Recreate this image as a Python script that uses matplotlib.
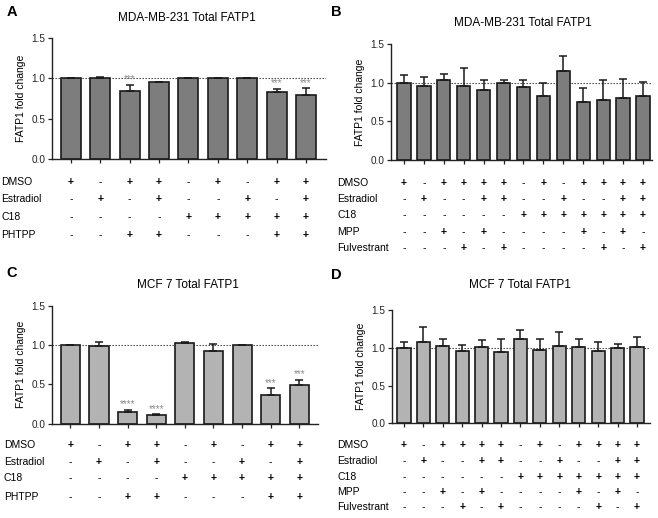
import matplotlib
matplotlib.use("Agg")
import matplotlib.pyplot as plt
import numpy as np

plt.rcParams['font.family'] = ['Liberation Sans', 'DejaVu Sans']

W, H = 658, 518

# ---- data ----
a_values = [1.0, 1.01, 0.85, 0.955, 1.0, 1.0, 1.0, 0.83, 0.80]
a_errors = [0.0, 0.005, 0.07, 0.0, 0.01, 0.0, 0.01, 0.04, 0.08]
a_stars = ["", "", "***", "", "", "", "", "***", "***"]

b_values = [1.0, 0.96, 1.03, 0.96, 0.905, 0.99, 0.94, 0.83, 1.15, 0.75, 0.78, 0.80, 0.83]
b_errors = [0.10, 0.11, 0.08, 0.23, 0.135, 0.04, 0.09, 0.17, 0.20, 0.18, 0.25, 0.25, 0.18]

c_values = [1.0, 0.99, 0.145, 0.11, 1.02, 0.92, 0.995, 0.36, 0.49]
c_errors = [0.0, 0.05, 0.035, 0.01, 0.02, 0.09, 0.005, 0.09, 0.07]
c_stars = ["", "", "****", "****", "", "", "", "***", "***"]

d_values = [1.0, 1.07, 1.03, 0.96, 1.01, 0.94, 1.12, 0.97, 1.03, 1.01, 0.96, 1.0, 1.01]
d_errors = [0.07, 0.20, 0.08, 0.08, 0.09, 0.18, 0.12, 0.15, 0.18, 0.10, 0.12, 0.05, 0.13]

ac_rows = ["DMSO", "Estradiol", "C18", "PHTPP"]
ac_signs = [
    "+-++-+-++",
    "-+-+--+-+",
    "----+++++",
    "--++---++",
]
bd_rows = ["DMSO", "Estradiol", "C18", "MPP", "Fulvestrant"]
bd_signs = [
    "+-++++-+-++++",
    "-+--++--+--++",
    "------+++++++",
    "--+-+----+-+-",
    "---+-+----+-+",
]

title_ab = "MDA-MB-231 Total FATP1"
title_cd = "MCF 7 Total FATP1"
yticks = [0.0, 0.5, 1.0, 1.5]
ytick_labels = ["0.0", "0.5", "1.0", "1.5"]

fig = plt.figure(figsize=(W / 100, H / 100), dpi=100)


def px_axes(left, top, right, bottom):
    return fig.add_axes([left / W, 1 - bottom / H, (right - left) / W, (bottom - top) / H])


def panel(ax, values, errors, color, xlim, bar_w, stars=None):
    x = np.arange(len(values))
    ax.bar(x, values, width=bar_w, color=color, edgecolor="#1a1a1a", linewidth=1.2, zorder=2)
    ax.errorbar(x, values, yerr=[np.zeros(len(errors)), errors], fmt="none",
                ecolor="#1a1a1a", elinewidth=1.1, capsize=3.2, capthick=1.1, zorder=3)
    ax.axhline(1.0, color="#333333", linestyle=(0, (1.2, 1.5)), linewidth=0.8, zorder=1)
    if stars:
        for xi, v, e, s in zip(x, values, errors, stars):
            if s:
                ax.text(xi, v + e + 0.005, s, ha="center", va="bottom", fontsize=7,
                        color="#8a8a8a")
    ax.set_xlim(*xlim)
    ax.set_ylim(0, 1.5)
    ax.set_yticks(yticks)
    ax.set_yticklabels(ytick_labels, fontsize=7.2)
    ax.set_xticks(x)
    ax.set_xticklabels([])
    ax.tick_params(axis="both", direction="out", length=3, width=0.9, pad=1.5, colors="#222222")
    for s in ["top", "right"]:
        ax.spines[s].set_visible(False)
    for s in ["left", "bottom"]:
        ax.spines[s].set_linewidth(1.0)
        ax.spines[s].set_color("#222222")
    ax.set_ylabel("FATP1 fold change", fontsize=7.5, labelpad=4)


def sign_rows(ax, rows, signs, label_x, ys):
    for name, sgn, y in zip(rows, signs, ys):
        fig.text(label_x / W, 1 - y / H, name, ha="left", va="center", fontsize=7.5)
        for i, ch in enumerate(sgn):
            xd = ax.transData.transform((i, 0))[0]
            fig.text(xd / (W), 1 - y / H, ch, ha="center", va="center", fontsize=7.5,
                     fontweight="bold" if ch == "+" else "normal")


dark = "#7d7d7d"
light = "#b3b3b3"

axA = px_axes(51.7, 38, 325.7, 159.3)
panel(axA, a_values, a_errors, dark, (-0.65, 8.67), 0.68, a_stars)
axB = px_axes(391, 44, 652, 160)
panel(axB, b_values, b_errors, dark, (-0.65, 12.45), 0.67)
axC = px_axes(51.7, 305.7, 318, 423.7)
panel(axC, c_values, c_errors, light, (-0.65, 8.65), 0.67, c_stars)
axD = px_axes(391.7, 310, 650, 423.3)
panel(axD, d_values, d_errors, light, (-0.63, 12.67), 0.68)

fig.canvas.draw()

sign_rows(axA, ac_rows, ac_signs, 1, [182, 199, 217, 235])
sign_rows(axB, bd_rows, bd_signs, 337, [183, 199, 215, 232, 248])
sign_rows(axC, ac_rows, ac_signs, 4, [445, 462, 478, 497])
sign_rows(axD, bd_rows, bd_signs, 337, [445, 461, 477, 492, 507])

fig.text(187 / W, 1 - 18 / H, title_ab, ha="center", va="center", fontsize=8.5)
fig.text(523 / W, 1 - 23 / H, title_ab, ha="center", va="center", fontsize=8.5)
fig.text(188 / W, 1 - 285 / H, title_cd, ha="center", va="center", fontsize=8.5)
fig.text(520 / W, 1 - 285 / H, title_cd, ha="center", va="center", fontsize=8.5)

fig.text(12 / W, 1 - 12 / H, "A", ha="center", va="center", fontsize=10.5, fontweight="bold")
fig.text(336 / W, 1 - 12 / H, "B", ha="center", va="center", fontsize=10.5, fontweight="bold")
fig.text(12 / W, 1 - 273 / H, "C", ha="center", va="center", fontsize=10.5, fontweight="bold")
fig.text(336 / W, 1 - 275 / H, "D", ha="center", va="center", fontsize=10.5, fontweight="bold")

fig.savefig("out.png", dpi=100, facecolor="white")
